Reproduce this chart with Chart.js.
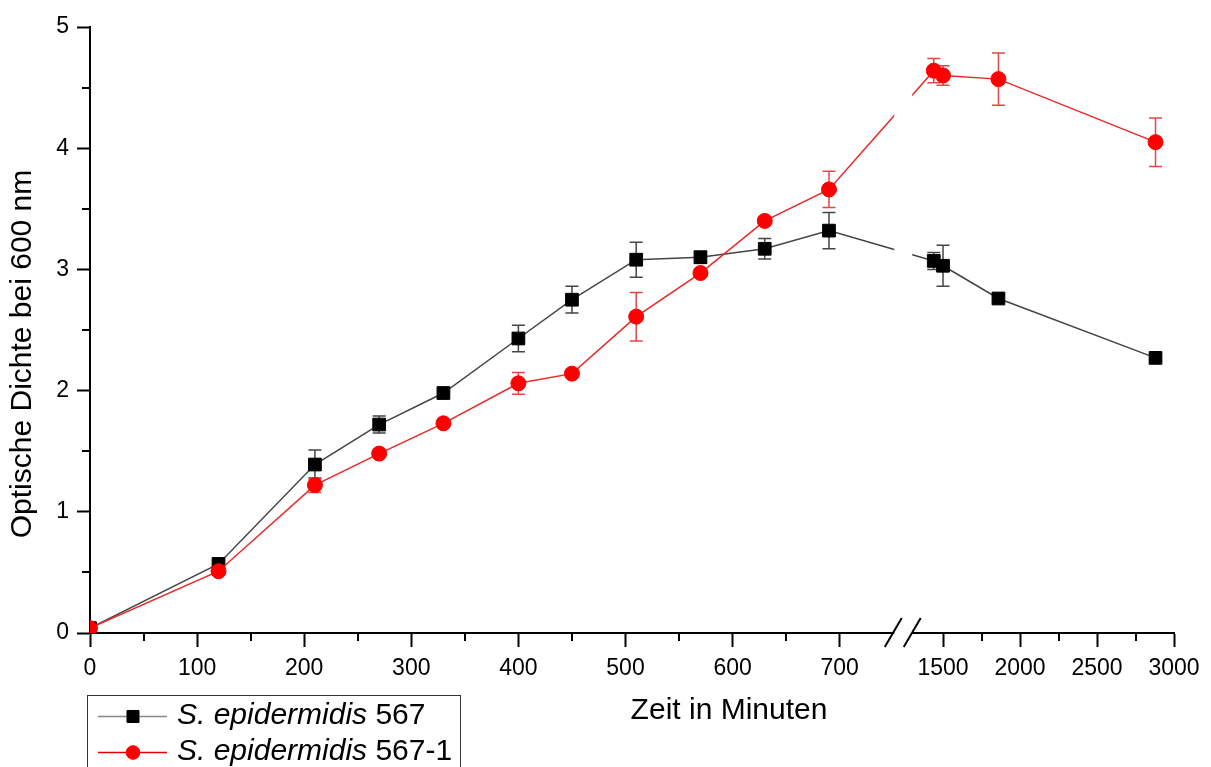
<!DOCTYPE html>
<html>
<head>
<meta charset="utf-8">
<script src="https://cdn.jsdelivr.net/npm/chart.js@4.4.1/dist/chart.umd.min.js"></script>
<style>
html,body{margin:0;padding:0;background:#fff;overflow:hidden}
#wrap{width:1211px;height:767px;position:relative}
</style>
</head>
<body>
<div id="wrap"><canvas id="c" width="1211" height="767"></canvas></div>
<script>
// ---- data ----
const times = [0, 120, 210, 270, 330, 400, 450, 510, 570, 630, 690, 1440, 1500, 1860, 2880];
const od567 = [0.04, 0.57, 1.39, 1.72, 1.98, 2.43, 2.75, 3.08, 3.10, 3.17, 3.32, 3.07, 3.03, 2.76, 2.27];
const err567 = [0.02, 0.03, 0.12, 0.07, 0.04, 0.11, 0.11, 0.145, 0.05, 0.085, 0.15, 0.07, 0.17, 0.03, 0.03];
const od5671 = [0.04, 0.51, 1.22, 1.48, 1.73, 2.06, 2.14, 2.61, 2.97, 3.40, 3.66, 4.64, 4.60, 4.57, 4.05];
const err5671 = [0.02, 0.03, 0.06, 0.03, 0.03, 0.09, 0.03, 0.20, 0.03, 0.03, 0.15, 0.10, 0.08, 0.215, 0.20];
const xMajorTicks = [0, 100, 200, 300, 400, 500, 600, 700, 1500, 2000, 2500, 3000];
const xMinorTicks = [50, 150, 250, 350, 450, 550, 650, 1750, 2250, 2750];
const yMajorTicks = [0, 1, 2, 3, 4, 5];
const yMinorTicks = [0.5, 1.5, 2.5, 3.5, 4.5];
const speciesName = 'S. epidermidis';
const strainNames = ['567', '567-1'];
const xTitle = 'Zeit in Minuten';
const yTitle = 'Optische Dichte bei 600 nm';
const breakFrom = 750, breakTo = 1300;

const FONT = '"Liberation Sans", Arial, sans-serif';

// ---- broken linear scale ----
class BrokenLinearScale extends Chart.LinearScale {
  _dec(value) {
    const b = this.options.axisBreak;
    const min = this.min, max = this.max;
    if (value <= b.from) return (value - min) / (b.from - min) * b.leftShare;
    if (value >= b.to) return 1 - (max - value) / (max - b.to) * b.rightShare;
    return b.leftShare + (value - b.from) / (b.to - b.from) * (1 - b.leftShare - b.rightShare);
  }
  getPixelForValue(value) {
    return this.getPixelForDecimal(this._dec(value));
  }
  getValueForPixel(pixel) {
    const b = this.options.axisBreak;
    const d = this.getDecimalForPixel(pixel);
    if (d <= b.leftShare) return this.min + d / b.leftShare * (b.from - this.min);
    if (d >= 1 - b.rightShare) return this.max - (1 - d) / b.rightShare * (this.max - b.to);
    return b.from + (d - b.leftShare) / (1 - b.leftShare - b.rightShare) * (b.to - b.from);
  }
}
BrokenLinearScale.id = 'brokenLinear';
BrokenLinearScale.defaults = Chart.LinearScale.defaults;
Chart.register(BrokenLinearScale);

const toPts = (ys) => times.map((t, i) => ({x: t, y: ys[i]}));

// ---- plugins ----
const errorBars = {
  id: 'errorBars',
  beforeDatasetsDraw(chart) {
    const ctx = chart.ctx, a = chart.chartArea;
    ctx.save();
    ctx.beginPath();
    ctx.rect(a.left, a.top - 20, a.right - a.left + 20, a.bottom - a.top + 20);
    ctx.clip();
    chart.data.datasets.forEach((ds, di) => {
      const meta = chart.getDatasetMeta(di);
      const xs = chart.scales[meta.xAxisID], ys = chart.scales[meta.yAxisID];
      ctx.strokeStyle = ds.errorColor;
      ctx.lineWidth = 1.5;
      ds.data.forEach((p, i) => {
        const e = ds.errors[i];
        if (!e) return;
        const x = xs.getPixelForValue(p.x);
        const y1 = ys.getPixelForValue(p.y + e);
        const y2 = ys.getPixelForValue(p.y - e);
        const cap = 6.5;
        ctx.beginPath();
        ctx.moveTo(x, y1); ctx.lineTo(x, y2);
        ctx.moveTo(x - cap, y1); ctx.lineTo(x + cap, y1);
        ctx.moveTo(x - cap, y2); ctx.lineTo(x + cap, y2);
        ctx.stroke();
      });
    });
    ctx.restore();
  }
};

const axisBreakPlugin = {
  id: 'axisBreakMark',
  afterDatasetsDraw(chart) {
    const ctx = chart.ctx, a = chart.chartArea, xs = chart.scales.x;
    const p1 = xs.getPixelForValue(breakFrom), p2 = xs.getPixelForValue(breakTo);
    ctx.save();
    ctx.fillStyle = '#fff';
    ctx.fillRect(p1 + 1, a.top, p2 - p1 - 1, a.bottom - a.top + 1.5);
    ctx.strokeStyle = '#000';
    ctx.lineWidth = 2;
    [p1, p2].forEach(c => {
      ctx.beginPath();
      ctx.moveTo(c - 8.5, a.bottom + 14);
      ctx.lineTo(c + 8.5, a.bottom - 15);
      ctx.stroke();
    });
    ctx.restore();
  }
};

const decorations = {
  id: 'decorations',
  afterDraw(chart) {
    const ctx = chart.ctx, a = chart.chartArea, xs = chart.scales.x, ys = chart.scales.y;
    ctx.save();
    // minor ticks
    ctx.strokeStyle = '#000';
    ctx.lineWidth = 2;
    xMinorTicks.forEach(v => {
      const x = Math.round(xs.getPixelForValue(v));
      ctx.beginPath(); ctx.moveTo(x, a.bottom); ctx.lineTo(x, a.bottom + 8); ctx.stroke();
    });
    yMinorTicks.forEach(v => {
      const y = Math.round(ys.getPixelForValue(v));
      ctx.beginPath(); ctx.moveTo(a.left, y); ctx.lineTo(a.left - 8, y); ctx.stroke();
    });
    // axis titles
    ctx.fillStyle = '#000';
    ctx.font = '30px ' + FONT;
    ctx.textAlign = 'center';
    ctx.textBaseline = 'middle';
    ctx.fillText(xTitle, 729, 711);
    ctx.save();
    ctx.translate(22.5, 354);
    ctx.rotate(-Math.PI / 2);
    ctx.fillText(yTitle, 0, 0);
    ctx.restore();
    // legend
    ctx.strokeStyle = '#333';
    ctx.lineWidth = 1;
    ctx.strokeRect(87.5, 695.5, 373, 120);
    chart.data.datasets.forEach((ds, i) => {
      const y = 716.5 + i * 36;
      ctx.strokeStyle = ds.legendLineColor;
      ctx.lineWidth = 1.5;
      ctx.beginPath(); ctx.moveTo(98, y); ctx.lineTo(167, y); ctx.stroke();
      ctx.fillStyle = ds.pointBackgroundColor;
      ctx.strokeStyle = ds.pointBorderColor;
      ctx.lineWidth = 1;
      Chart.helpers.drawPoint(ctx, {pointStyle: ds.pointStyle, radius: ds.legendRadius, rotation: 0, borderWidth: 1}, 133, y);
      ctx.fillStyle = '#000';
      ctx.textAlign = 'left';
      ctx.textBaseline = 'middle';
      ctx.font = 'italic 30px ' + FONT;
      const sp = speciesName + ' ';
      ctx.fillText(sp, 177, y - 1);
      const w = ctx.measureText(sp).width;
      ctx.font = '30px ' + FONT;
      ctx.fillText(ds.strain, 177 + w, y - 1);
    });
    ctx.restore();
  }
};

const tickFont = {family: FONT, size: 23};

new Chart(document.getElementById('c'), {
  type: 'line',
  data: {
    datasets: [
      {
        label: speciesName + ' ' + strainNames[0],
        strain: strainNames[0],
        data: toPts(od567),
        errors: err567,
        errorColor: '#444',
        legendLineColor: '#888',
        legendRadius: 8.5,
        borderColor: '#444',
        borderWidth: 1.5,
        pointStyle: 'rect',
        pointRadius: 9,
        pointBorderWidth: 1,
        pointBackgroundColor: '#000',
        pointBorderColor: '#000',
        fill: false,
        tension: 0,
        order: 1
      },
      {
        label: speciesName + ' ' + strainNames[1],
        strain: strainNames[1],
        data: toPts(od5671),
        errors: err5671,
        errorColor: '#e04848',
        legendLineColor: '#e00000',
        legendRadius: 6.8,
        borderColor: '#e82828',
        borderWidth: 1.5,
        pointStyle: 'circle',
        pointRadius: 7.5,
        pointBorderWidth: 1,
        pointBackgroundColor: '#ff0000',
        pointBorderColor: '#ff0000',
        fill: false,
        tension: 0,
        order: 0
      }
    ]
  },
  options: {
    responsive: false,
    animation: false,
    events: [],
    layout: {padding: {left: 0, top: 27, right: 37, bottom: 0}},
    plugins: {legend: {display: false}, title: {display: false}, tooltip: {enabled: false}},
    scales: {
      x: {
        type: 'brokenLinear',
        min: 0,
        max: 3000,
        axisBreak: {from: breakFrom, to: breakTo, leftShare: 0.741, rightShare: 0.2415},
        afterBuildTicks: s => { s.ticks = xMajorTicks.map(v => ({value: v})); },
        afterFit: s => { s.height = 134; },
        ticks: {autoSkip: false, maxRotation: 0, minRotation: 0, padding: 8, color: '#000', font: tickFont, callback: v => String(v)},
        grid: {display: true, drawOnChartArea: false, drawTicks: true, tickLength: 14, tickWidth: 2, tickColor: '#000'},
        border: {display: true, color: '#000', width: 2},
        title: {display: false}
      },
      y: {
        type: 'linear',
        min: 0,
        max: 5,
        afterBuildTicks: s => { s.ticks = yMajorTicks.map(v => ({value: v})); },
        afterFit: s => { s.width = 90; },
        ticks: {padding: 8, color: '#000', font: tickFont, callback: v => String(v)},
        grid: {display: true, drawOnChartArea: false, drawTicks: true, tickLength: 13, tickWidth: 2, tickColor: '#000'},
        border: {display: true, color: '#000', width: 2},
        title: {display: false}
      }
    }
  },
  plugins: [errorBars, axisBreakPlugin, decorations]
});
</script>
</body>
</html>
